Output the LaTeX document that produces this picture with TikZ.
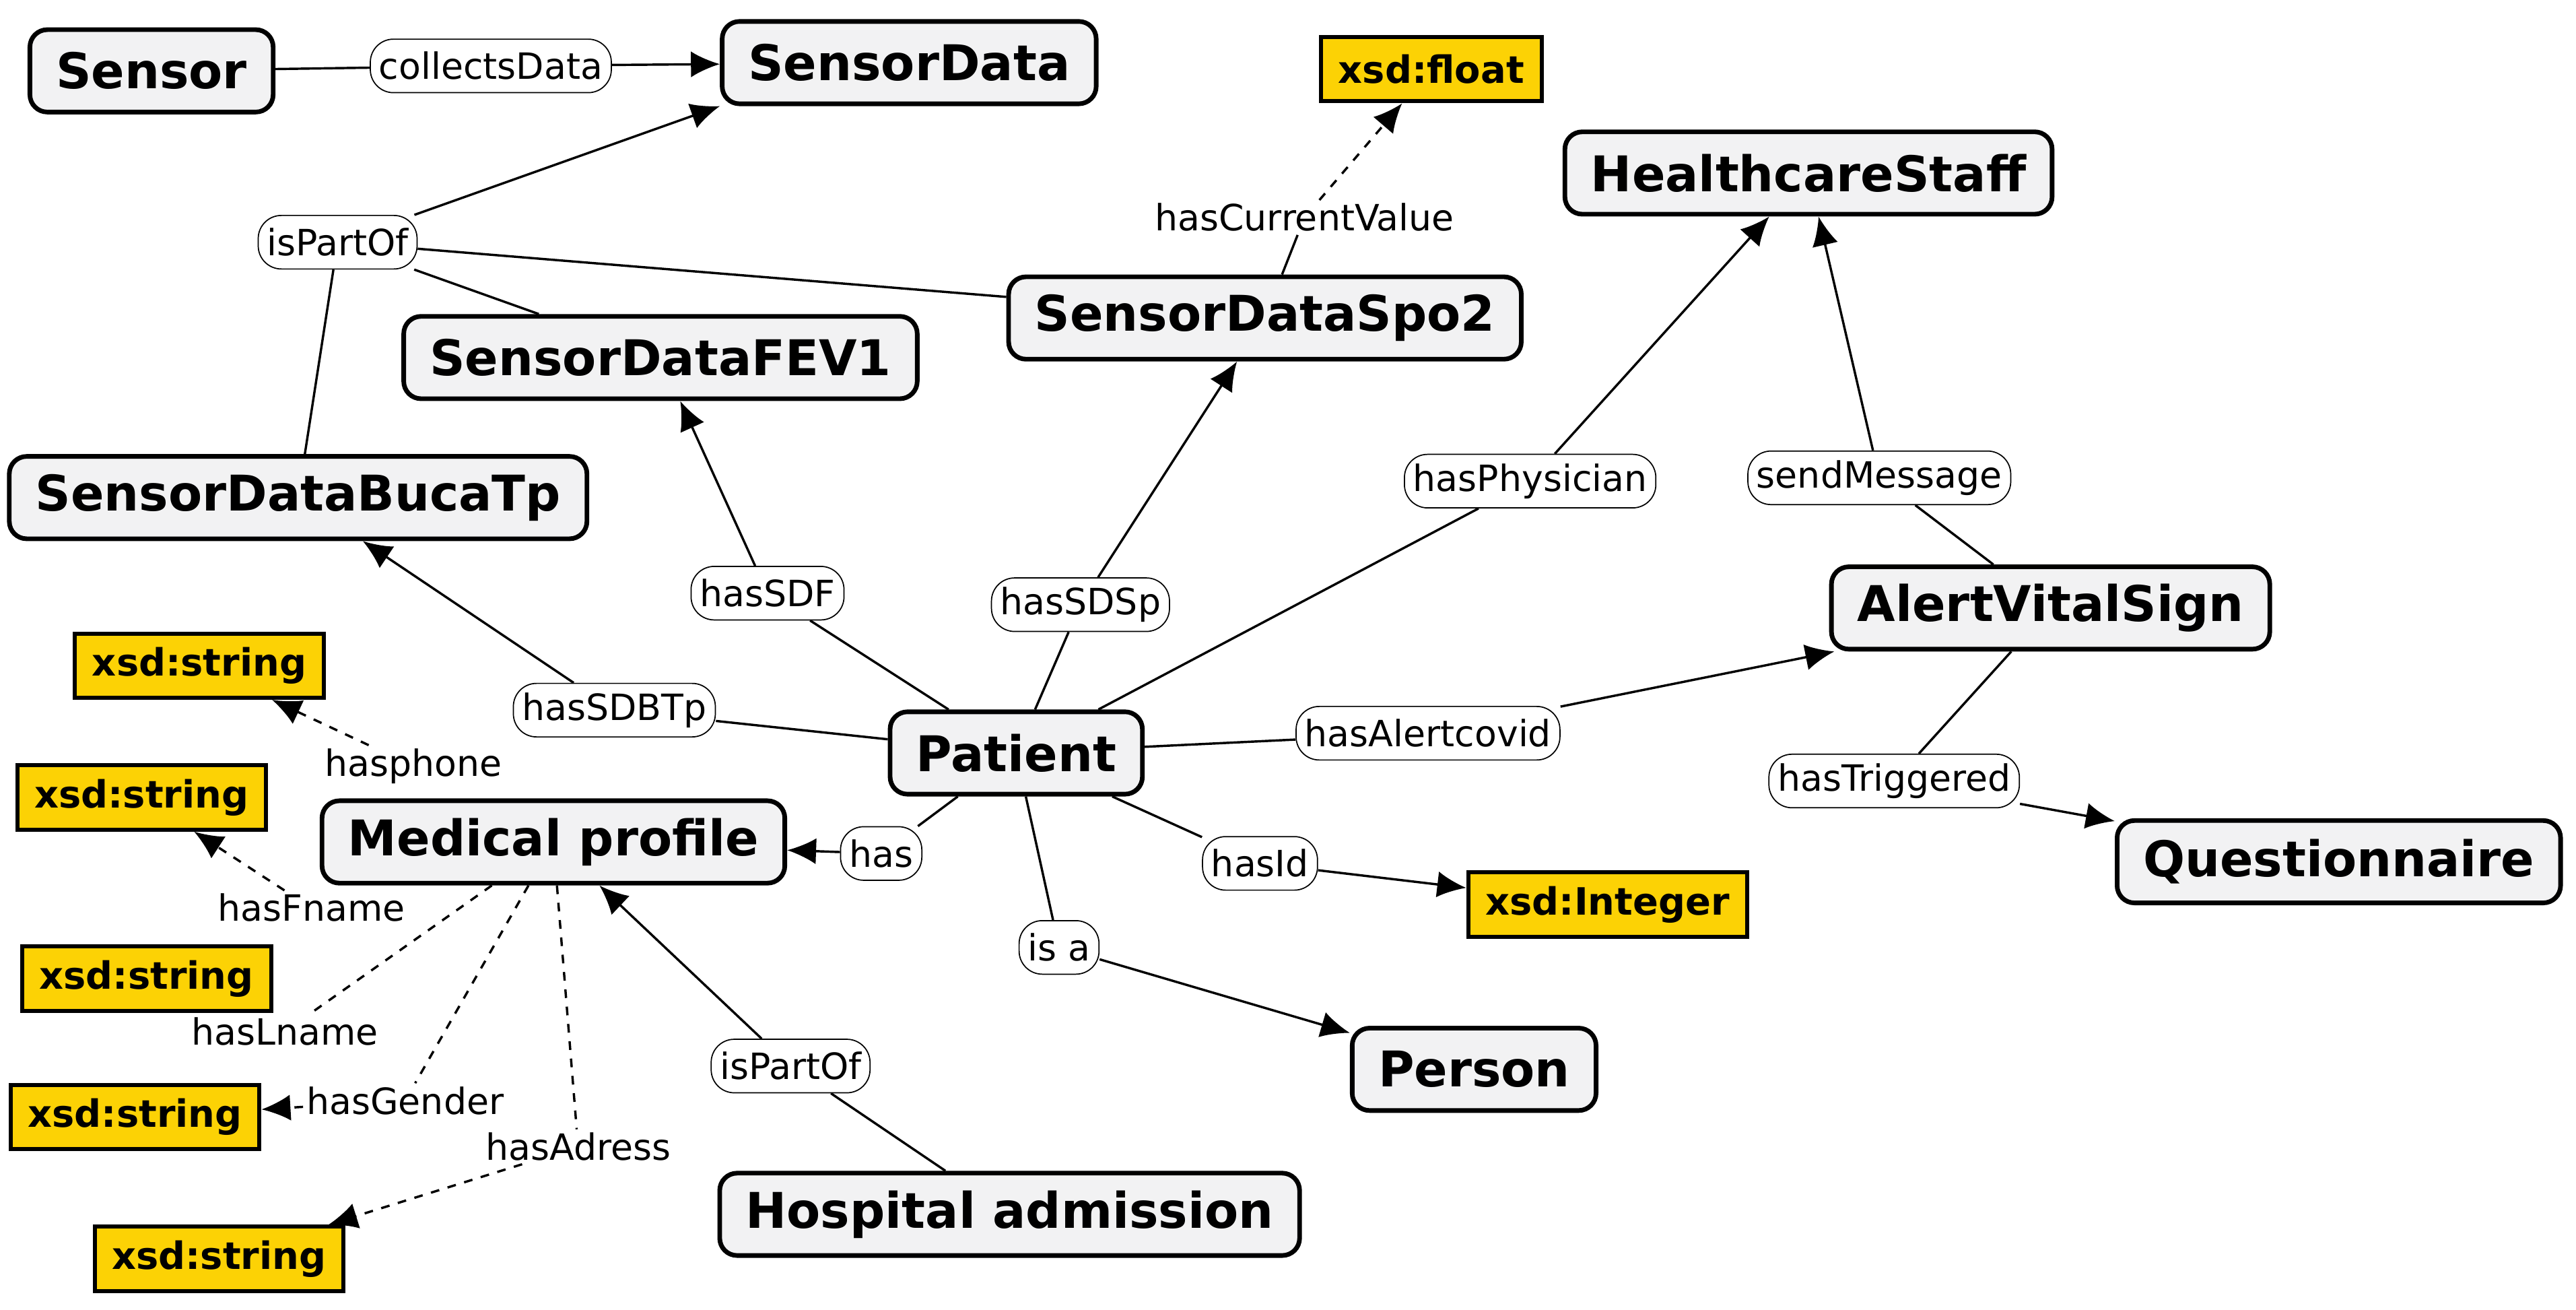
\documentclass[tikz,border=0pt]{standalone}
\usepackage{fontspec}
\setmainfont{DejaVu Sans}
\usetikzlibrary{arrows.meta}
\tikzset{
  concept/.style={draw, line width=1.6pt, rounded corners=6pt, fill=blue!5!gray!10, font=\fontsize{17}{20}\selectfont\bfseries, inner xsep=9pt, minimum height=1cm},
  literal/.style={draw, line width=1.4pt, fill=orange!20!yellow!80!orange, fill=yellow!70!orange, font=\fontsize{13}{16}\selectfont\bfseries, inner xsep=6pt, minimum height=0.78cm},
  link/.style={draw, rounded corners=8pt, fill=white, font=\fontsize{12.5}{15}\selectfont, inner sep=3pt, minimum height=0.65cm},
  plain/.style={fill=white, font=\fontsize{12.5}{15}\selectfont, inner sep=1pt},
  rel/.style={line width=0.8pt},
  arr/.style={line width=0.8pt, -{Latex[length=10pt,width=9pt]}},
  darr/.style={arr, dashed}
}
\begin{document}
\begin{tikzpicture}[x=0.02cm, y=-0.02cm]
  \useasboundingbox (0,0) rectangle (1564,795);
  % concepts
  \node[concept] (sensor) at (92,43) {Sensor};
  \node[concept] (sdata) at (552,38) {SensorData};
  \node[concept] (staff) at (1098,105) {HealthcareStaff};
  \node[concept] (spo2) at (768,193) {SensorDataSpo2};
  \node[concept] (fev1) at (401,217) {SensorDataFEV1};
  \node[concept] (buca) at (181,302) {SensorDataBucaTp};
  \node[concept] (alert) at (1245,369) {AlertVitalSign};
  \node[concept] (patient) at (617,457) {Patient};
  \node[concept] (medical) at (336,511) {Medical profile};
  \node[concept] (quest) at (1420,523) {Questionnaire};
  \node[concept] (person) at (895,649) {Person};
  \node[concept] (hospital) at (613,737) {Hospital admission};
  % literals
  \node[literal] (float) at (869,42) {xsd:float};
  \node[literal] (integer) at (976,549) {xsd:Integer};
  \node[literal] (str1) at (121,404) {xsd:string};
  \node[literal] (str2) at (86,484) {xsd:string};
  \node[literal] (str3) at (89,594) {xsd:string};
  \node[literal] (str4) at (82,678) {xsd:string};
  \node[literal] (str5) at (133,764) {xsd:string};
  % link labels
  \node[link] (collects) at (298,40) {collectsData};
  \node[link] (partof) at (205,147) {isPartOf};
  \node[plain] (current) at (792,132) {hasCurrentValue};
  \node[link] (physician) at (929,292) {hasPhysician};
  \node[link] (sendmsg) at (1141,290) {sendMessage};
  \node[link] (hassdf) at (466,360) {hasSDF};
  \node[link] (hassdsp) at (656,367) {hasSDSp};
  \node[link] (hassdbtp) at (373,431) {hasSDBTp};
  \node[link] (alertcovid) at (867,445) {hasAlertcovid};
  \node[link] (triggered) at (1150,474) {hasTriggered};
  \node[link] (has) at (535,518) {has};
  \node[link] (hasid) at (765,524) {hasId};
  \node[link] (isa) at (643,575) {is a};
  \node[link] (partof2) at (480,647) {isPartOf};
  \node[plain] (phone) at (251,465) {hasphone};
  \node[plain] (fname) at (189,551) {hasFname};
  \node[plain] (lname) at (173,626) {hasLname};
  \node[plain] (gender) at (246,668) {hasGender};
  \node[plain] (adress) at (351,696) {hasAdress};
  % connectors
  \draw[rel] (sensor) -- (collects);
  \draw[arr] (collects) -- (sdata);
  \draw[arr] (partof) -- (sdata.south west);
  \draw[rel] (partof) -- (spo2);
  \draw[rel] (partof) -- (fev1);
  \draw[rel] (partof) -- (buca);
  \draw[darr] (current) -- (float);
  \draw[rel] (spo2) -- (current);
  \draw[rel] (patient) -- (hassdf);
  \draw[arr] (hassdf) -- (fev1);
  \draw[rel] (patient) -- (hassdsp);
  \draw[arr] (hassdsp) -- (spo2);
  \draw[rel] (patient) -- (physician);
  \draw[arr] (physician) -- (staff);
  \draw[rel] (patient) -- (hassdbtp);
  \draw[arr] (hassdbtp) -- (buca);
  \draw[rel] (patient) -- (alertcovid);
  \draw[arr] (alertcovid) -- (alert);
  \draw[rel] (patient) -- (has);
  \draw[arr] (has) -- (medical);
  \draw[rel] (patient) -- (hasid);
  \draw[arr] (hasid) -- (integer);
  \draw[rel] (patient) -- (isa);
  \draw[arr] (isa) -- (person);
  \draw[rel] (alert) -- (sendmsg);
  \draw[arr] (sendmsg) -- (staff);
  \draw[rel] (alert) -- (triggered);
  \draw[arr] (triggered) -- (quest);
  \draw[rel] (hospital) -- (partof2);
  \draw[arr] (partof2) -- (medical);
  \draw[darr] (phone) -- (str1);
  \draw[darr] (fname) -- (str2);
  \draw[rel, dashed] (medical) -- (lname);
  \draw[rel, dashed] (medical) -- (gender);
  \draw[darr] (gender) -- (str4);
  \draw[rel, dashed] (medical) -- (adress);
  \draw[darr] (adress) -- (str5);
\end{tikzpicture}
\end{document}
